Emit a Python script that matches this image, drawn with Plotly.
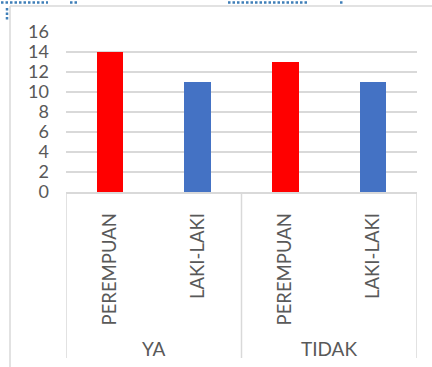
import plotly.graph_objects as go

groups = ["YA", "YA", "TIDAK", "TIDAK"]
subcats = ["PEREMPUAN", "LAKI-LAKI", "PEREMPUAN", "LAKI-LAKI"]
values = [14, 11, 13, 11]
colors = ["#FF0000", "#4472C4", "#FF0000", "#4472C4"]
yticks = [0, 2, 4, 6, 8, 10, 12, 14, 16]

W, H = 432, 367
L, R, T, B = 66, 15, 32, 175
pw, ph = W - L - R, H - T - B

def px(x):
    return (x - L) / pw

def py(y):
    return (H - B - y) / ph

FONT = "Lato"
TXT = "#595959"
GRID = "#d9d9d9"
HANDLE = "#3f7fb8"

xs = list(range(len(values)))
fig = go.Figure(go.Bar(x=xs, y=values, marker=dict(color=colors, line=dict(width=0)),
                       width=0.304, showlegend=False))

shapes = []
# group dividers
bounds = [-0.5]
for i in range(1, len(groups)):
    if groups[i] != groups[i - 1]:
        bounds.append(i - 0.5)
bounds.append(len(groups) - 0.5)
for b in bounds:
    shapes.append(dict(type="line", xref="x", yref="paper", x0=b, x1=b, y0=0, y1=py(358),
                       line=dict(color=GRID, width=1.5)))
# chart area border
shapes.append(dict(type="line", xref="paper", yref="paper", x0=px(10), x1=px(10), y0=py(6), y1=py(380),
                   line=dict(color=GRID, width=1.5)))
shapes.append(dict(type="line", xref="paper", yref="paper", x0=px(10), x1=px(440), y0=py(6), y1=py(6),
                   line=dict(color=GRID, width=1.5)))
# selection handles (dotted)
for a, b in [(1, 48), (70, 78), (228, 308), (340, 344)]:
    shapes.append(dict(type="line", xref="paper", yref="paper", x0=px(a), x1=px(b), y0=py(2.5), y1=py(2.5),
                       line=dict(color=HANDLE, width=2.5, dash="2.5px,2px")))
shapes.append(dict(type="line", xref="paper", yref="paper", x0=px(7), x1=px(7), y0=py(8), y1=py(20),
                   line=dict(color=HANDLE, width=2.5, dash="2.5px,2px")))

annotations = []
seen = []
for g in groups:
    if g not in seen:
        seen.append(g)
for g in seen:
    idx = [i for i, gg in enumerate(groups) if gg == g]
    annotations.append(dict(x=sum(idx) / len(idx), y=py(348), xref="x", yref="paper", text=g,
                            showarrow=False, xanchor="center", yanchor="middle",
                            font=dict(family=FONT, size=19, color=TXT)))

fig.update_layout(
    width=W, height=H,
    margin=dict(l=L, r=R, t=T, b=B),
    plot_bgcolor="white", paper_bgcolor="white",
    font=dict(family=FONT, color=TXT, size=18),
    shapes=shapes, annotations=annotations,
    bargap=0,
)
fig.update_xaxes(range=[-0.5, len(values) - 0.5], tickmode="array", tickvals=xs, ticktext=subcats,
                 tickangle=-90, showgrid=False, zeroline=False, showline=True, linecolor=GRID,
                 linewidth=1.5, ticks="", ticklabelstandoff=12,
                 tickfont=dict(family=FONT, size=18.5, color=TXT))
fig.update_yaxes(range=[0, 16], tickmode="array", tickvals=yticks, showgrid=True, gridcolor=GRID,
                 gridwidth=1.5, zeroline=False, showline=False, ticks="", ticklabelstandoff=16,
                 tickfont=dict(family=FONT, size=18, color=TXT))

fig.write_html("out.html")
